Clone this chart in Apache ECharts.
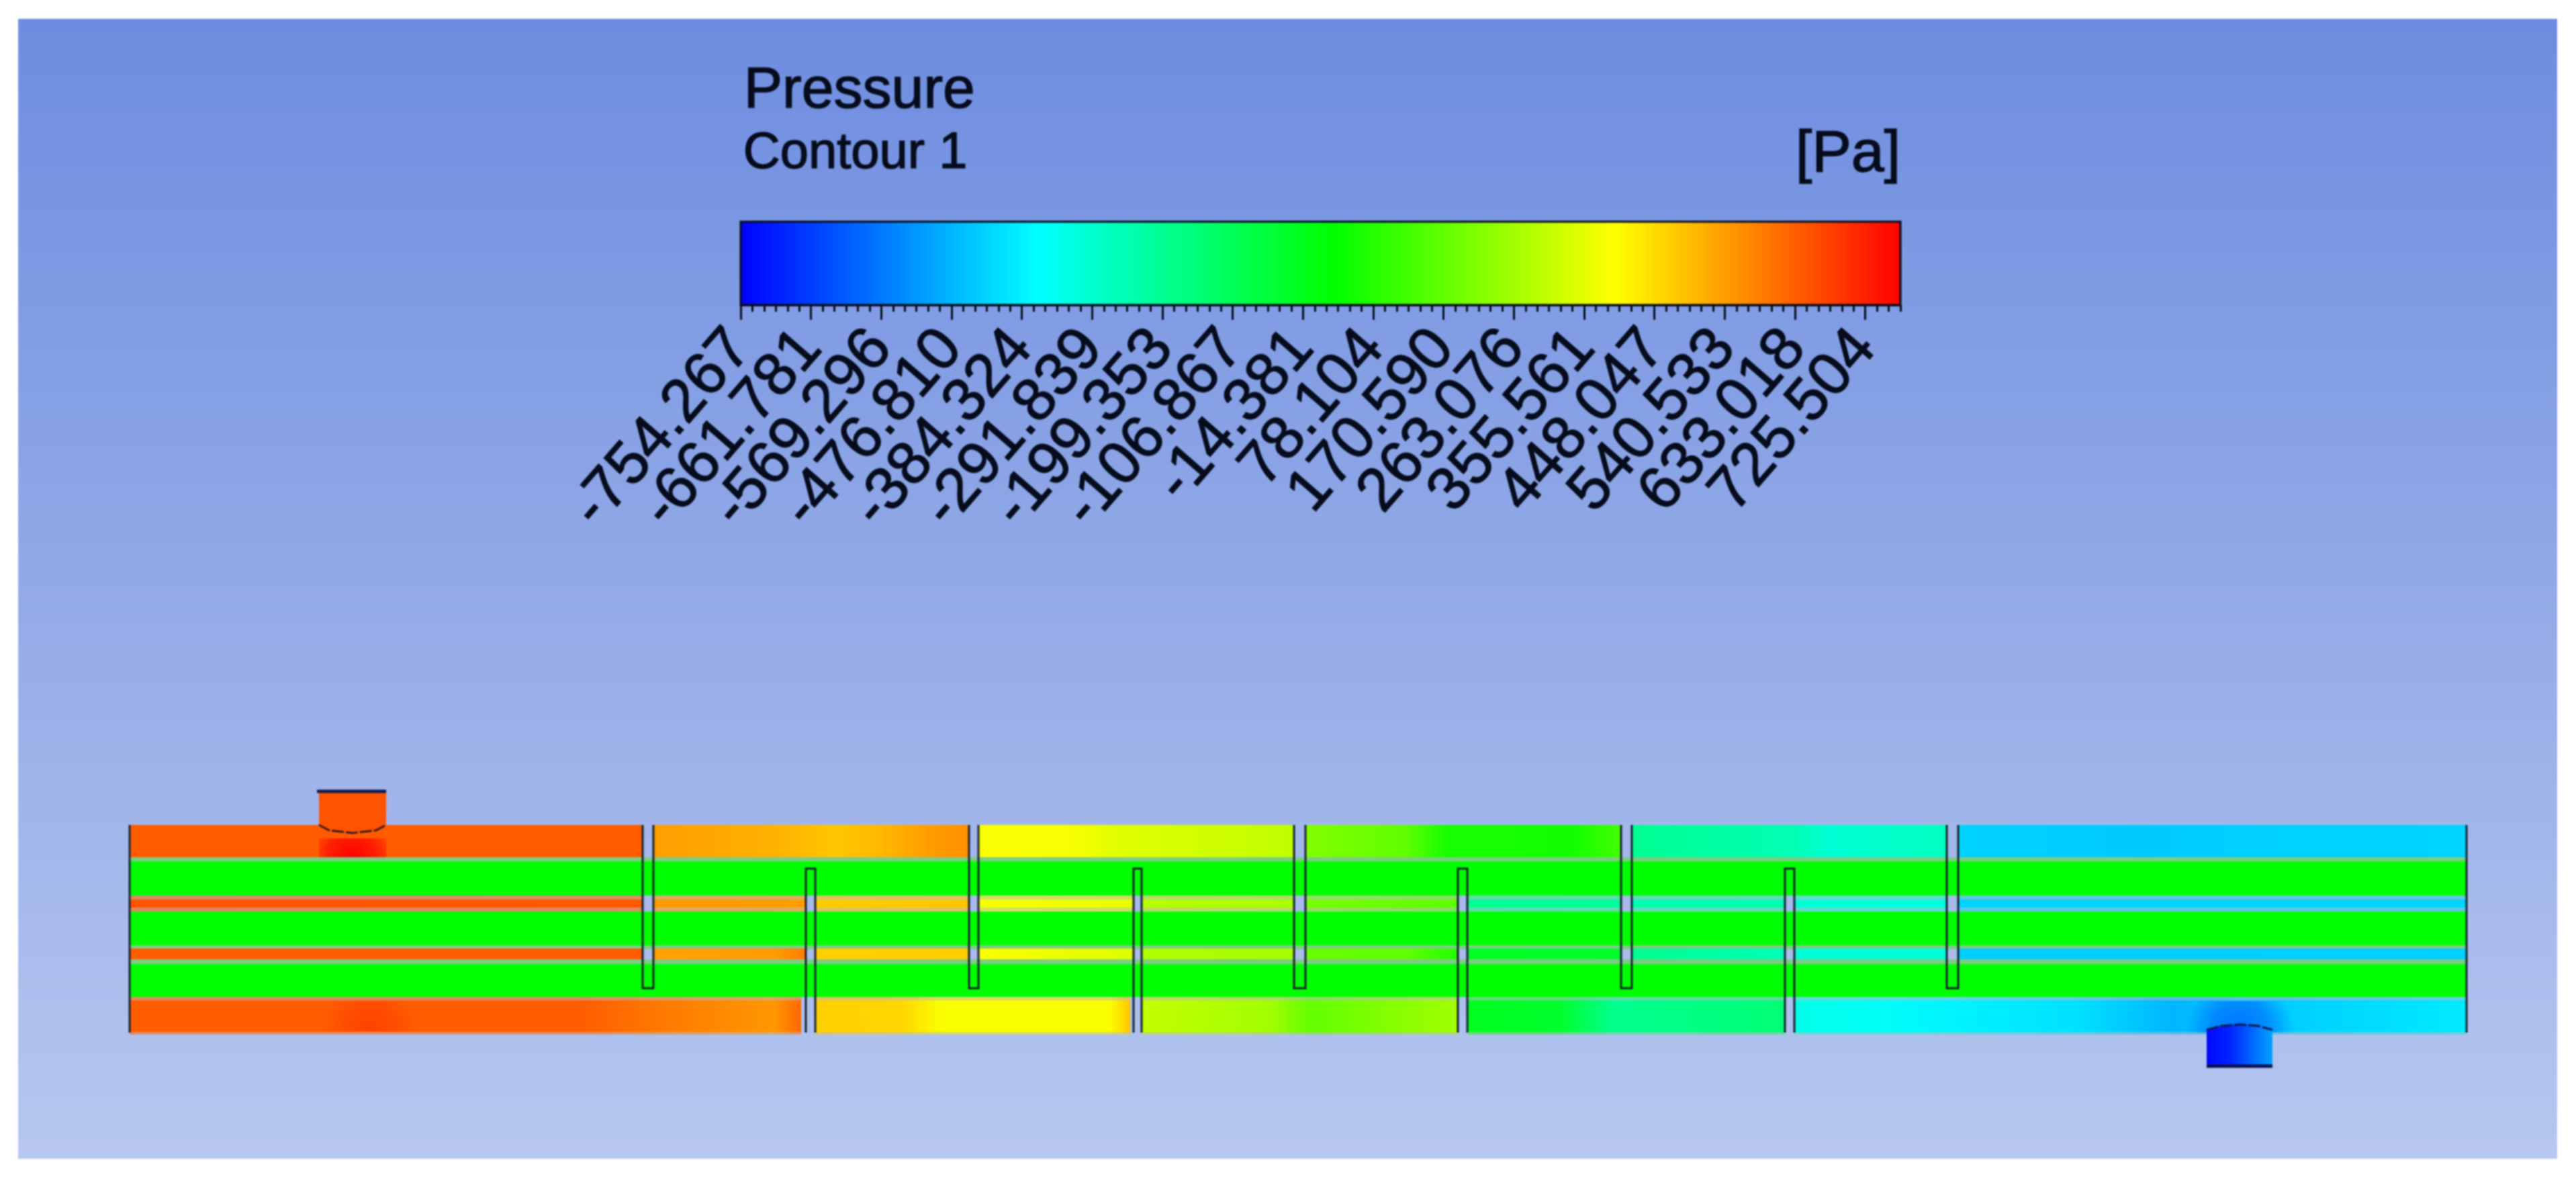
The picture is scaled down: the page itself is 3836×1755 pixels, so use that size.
<!DOCTYPE html>
<html><head><meta charset="utf-8">
<style>html,body{margin:0;padding:0;background:#fff}#c{width:3836px;height:1755px;filter:blur(1.2px)}</style>
<script src="https://cdn.jsdelivr.net/npm/echarts@6/dist/echarts.min.js"></script>
</head><body><div id="c"></div>
<script>
// colour scale
const tickLabels = ['-754.267','-661.781','-569.296','-476.810','-384.324','-291.839','-199.353','-106.867','-14.381','78.104','170.590','263.076','355.561','448.047','540.533','633.018','725.504'];
const scaleMin = -754.267, scaleMax = 771.75;
const scaleColors = ['#0000ff','#00ffff','#00ff00','#ffff00','#ff0000'];
const scaleStops = [0,.256,.512,.754,1];
// geometry in axis units
const topBaffleX = [764,1250,1734,2221,2706];
const topBaffleW = [16,14,17,16,17];
const bottomBaffleX = [1007,1495,1978,2465];
const bottomBaffleW = [14,12,14,14];
// shell-side pressure stations [x, Pa], one list per compartment
const topBand = [
 [[0,636],[764,636]],
 [[780,540],[960,510],[1050,480],[1110,496],[1190,540],[1250,560]],
 [[1264,389],[1400,385],[1480,350],[1600,330],[1734,305]],
 [[1751,215],[1900,165],[1960,60],[2150,55],[2221,125]],
 [[2237,-195],[2480,-250],[2530,-300],[2706,-266]],
 [[2723,-431],[3000,-445],[3200,-432],[3480,-431]]
];
const gapBand1 = [
 [[0,650],[764,640]],[[780,545],[1007,540]],[[1021,470],[1250,480]],
 [[1264,385],[1495,360]],[[1507,290],[1734,270]],[[1751,200],[1978,160]],
 [[1992,-200],[2221,-210]],[[2237,-240],[2465,-245]],[[2479,-303],[2706,-310]],[[2723,-431],[3480,-431]]
];
const gapBand2 = [
 [[0,636],[764,636]],[[780,535],[960,540],[1007,590]],[[1021,465],[1250,470]],
 [[1264,389],[1495,345]],[[1507,280],[1734,265]],[[1751,175],[1900,170],[1978,75]],
 [[1992,-30],[2221,-40]],[[2237,-190],[2465,-250]],[[2479,-300],[2706,-300]],[[2723,-440],[3480,-435]]
];
const bottomBand = [
 [[0,636],[668,636],[800,590],[960,550],[1000,620]],
 [[1021,465],[1150,455],[1210,389],[1460,389],[1490,480]],
 [[1507,310],[1700,260],[1760,170],[1978,260]],
 [[1992,-20],[2130,-40],[2210,-190],[2465,-150]],
 [[2479,-330],[2600,-350],[2710,-380],[2900,-410],[3040,-475],[3260,-430],[3480,-395]]
];
// plumes near nozzles: [x0,y0,x1,y1,Pa,opacity,reach]
const plumes = [[282,70,382,98,771,1,2.4],[287,312,427,357,690,.7,1.5],[3060,312,3225,359,-590,.95,1.7]];
const tubePressure = 27;
const inletArc = [[282,50],[297,58],[332,62],[367,58],[382,50]];
const outletArc = [[3093,355],[3115,349],[3142,347],[3169,349],[3191,355]];

const bandRows = [
 {rows:topBand,y0:50,y1:98},{rows:gapBand1,y0:161,y1:173},{rows:gapBand2,y0:234,y1:250},{rows:bottomBand,y0:311,y1:358}
];
const lineRows = [
 {rows:gapBand1,y0:155,y1:161},{rows:gapBand1,y0:173,y1:179},{rows:bottomBand,y0:306,y1:311},{rows:bottomBand,y0:358,y1:362}
];
const tubeRows = [[0,3480,104,155],[0,3480,179,229],[0,3480,257,306]];
const tubeEdges = [[0,3480,98,104],[0,3480,229,235],[0,3480,250,257]];

function hex(c){return [1,3,5].map(i=>parseInt(c.substr(i,2),16));}
function mixRGB(a,b,t){return a.map((v,i)=>v+(b[i]-v)*t);}
function rgb(a,o){return 'rgba('+a.map(Math.round).join(',')+','+(o==null?1:o)+')';}
function scaleRGB(p){
  const t=Math.max(0,Math.min(.9999,(p-scaleMin)/(scaleMax-scaleMin)));
  let i=0; while(t>scaleStops[i+1]) i++;
  return mixRGB(hex(scaleColors[i]),hex(scaleColors[i+1]),(t-scaleStops[i])/(scaleStops[i+1]-scaleStops[i]));
}
const edgeGray=[186,186,196];
function stopsOf(st,gray){
  const a=st[0][0],b=st[st.length-1][0];
  return st.map(s=>{let c=scaleRGB(s[1]); if(gray) c=mixRGB(c,edgeGray,.52);
    return {offset:(s[0]-a)/(b-a),color:rgb(c)};});
}
const rects=[];
bandRows.forEach(b=>b.rows.forEach(st=>rects.push({st,y0:b.y0,y1:b.y1,gray:false})));
lineRows.forEach(b=>b.rows.forEach(st=>rects.push({st,y0:b.y0,y1:b.y1,gray:true})));
function rectShape(api,x0,y0,x1,y1){
  const a=api.coord([x0,y0]),b=api.coord([x1,y1]);
  return {x:a[0],y:a[1],width:b[0]-a[0],height:b[1]-a[1]};
}
const G=echarts.graphic;
const majors=tickLabels.map(Number);
// the axis always drops its first and last label, so both ends get an empty sentinel
const labelValues=[scaleMin].concat(majors.map((m,i)=>i===0?m+.005:m),[scaleMax]);
const step=(majors[16]-majors[0])/16;
const minors=[];
for(let m=scaleMin;m<scaleMax+step/12;m+=step/6){minors.push(+m.toFixed(3));}
const ink='#060c1c';
const heavy={stroke:ink,lineWidth:1.5};

const opt={
 animation:false,
 backgroundColor:'#ffffff',
 graphic:[{type:'rect',z:-10,silent:true,shape:{x:27,y:28,width:3781,height:1697},
   style:{fill:new G.LinearGradient(0,0,0,1,[{offset:0,color:'#6e8de0'},{offset:1,color:'#b7c7ef'}])}},
 {type:'text',left:1107,top:93,z:5,style:Object.assign({text:'Pressure',font:'86px "Liberation Sans"',fill:ink},heavy)},
 {type:'text',left:1106,top:190,z:5,style:Object.assign({text:'Contour 1',font:'76px "Liberation Sans"',fill:ink},heavy)},
 {type:'text',right:1005,top:186,z:5,style:Object.assign({text:'[Pa]',font:'88px "Liberation Sans"',fill:ink},heavy)}],
 grid:[{left:193,top:1178,width:3480,height:409,show:false},
       {left:1103,top:330,width:1727,height:124,show:false}],
 xAxis:[
  {type:'value',gridIndex:0,min:0,max:3480,show:false},
  {type:'value',gridIndex:1,min:scaleMin,max:scaleMax,position:'bottom',
   axisLine:{show:true,lineStyle:{color:ink,width:3}},
   axisTick:{show:true,length:22,lineStyle:{color:ink,width:3},customValues:labelValues.slice(0,-1)},
   axisLabel:{show:true,rotate:49,margin:50,fontSize:90,color:ink,fontFamily:'Liberation Sans',
     textBorderColor:ink,textBorderWidth:1.5,
     showMinLabel:false,showMaxLabel:false,hideOverlap:false,
     customValues:labelValues,formatter:v=>{if(v===scaleMin||v===scaleMax)return '';const i=majors.findIndex(m=>Math.abs(m-v)<.01);return i<0?'':tickLabels[i];}},
   splitLine:{show:false}},
  {type:'value',gridIndex:1,min:scaleMin,max:scaleMax,position:'bottom',
   axisLine:{show:false},axisLabel:{show:false},splitLine:{show:false},
   axisTick:{show:true,length:10,lineStyle:{color:ink,width:3},customValues:minors}}
 ],
 yAxis:[
  {type:'value',gridIndex:0,min:0,max:409,inverse:true,show:false},
  {type:'value',gridIndex:1,min:0,max:1,show:false}
 ],
 series:[
  // colour bar
  {type:'custom',xAxisIndex:1,yAxisIndex:1,clip:false,z:3,data:[[scaleMin,scaleMax]],
   renderItem:(p,api)=>{const a=api.coord([scaleMin,1]),b=api.coord([scaleMax,0]);
    return {type:'rect',shape:{x:a[0],y:a[1],width:b[0]-a[0],height:b[1]-a[1]},
     style:{stroke:ink,lineWidth:3,fill:new G.LinearGradient(0,0,1,0,scaleColors.map((c,i)=>({offset:scaleStops[i],color:c})))}};}},
  // tubes
  {type:'custom',xAxisIndex:0,yAxisIndex:0,clip:false,z:3,data:tubeRows,
   renderItem:(p,api)=>{const r=tubeRows[p.dataIndex];
    return {type:'rect',shape:rectShape(api,r[0],r[2],r[1],r[3]),style:{fill:rgb(scaleRGB(tubePressure))}};}},
  {type:'custom',xAxisIndex:0,yAxisIndex:0,clip:false,z:3,data:tubeEdges,
   renderItem:(p,api)=>{const r=tubeEdges[p.dataIndex];
    return {type:'rect',shape:rectShape(api,r[0],r[2],r[1],r[3]),style:{fill:'#7ccc84'}};}},
  // shell bands and blended edges
  {type:'custom',xAxisIndex:0,yAxisIndex:0,clip:false,z:4,data:rects.map((r,i)=>[i]),
   renderItem:(p,api)=>{const r=rects[p.dataIndex],s=r.st;
    return {type:'rect',shape:rectShape(api,s[0][0],r.y0,s[s.length-1][0],r.y1),
     style:{fill:new G.LinearGradient(0,0,1,0,stopsOf(s,r.gray))}};}},
  // plumes
  {type:'custom',xAxisIndex:0,yAxisIndex:0,clip:false,z:5,data:plumes,
   renderItem:(p,api)=>{const r=plumes[p.dataIndex],c=scaleRGB(r[4]);
    return {type:'rect',shape:rectShape(api,r[0],r[1],r[2],r[3]),
     style:{fill:new G.RadialGradient(.5,.95,r[6],[{offset:0,color:rgb(c,r[5])},{offset:.55,color:rgb(c,r[5]*.65)},{offset:1,color:rgb(c,0)}])}};}},
  // nozzles
  {type:'custom',xAxisIndex:0,yAxisIndex:0,clip:false,z:6,data:[[0],[1]],
   renderItem:(p,api)=>{
    if(p.dataIndex===0){
      const pts=[[282,0]].concat(inletArc.map(q=>q.slice()),[[382,0]]).map(q=>api.coord(q));
      const arc=inletArc.map(q=>api.coord(q));
      return {type:'group',children:[
       {type:'polygon',shape:{points:pts},style:{fill:rgb(scaleRGB(650))}},
       {type:'polyline',shape:{points:arc},style:{stroke:'#3a1a20',lineWidth:3,fill:null,lineDash:[18,3]}},
       {type:'polyline',shape:{points:[api.coord([279,0]),api.coord([382,0])]},style:{stroke:'#101a50',lineWidth:5,fill:null}}]};
    }
    const pts=outletArc.concat([[3191,409],[3093,409]]).map(q=>api.coord(q));
    const arc=outletArc.map(q=>api.coord(q));
    return {type:'group',children:[
     {type:'polygon',shape:{points:pts},style:{fill:new G.LinearGradient(0,0,1,0,[{offset:0,color:rgb(scaleRGB(-740))},{offset:.35,color:rgb(scaleRGB(-700))},{offset:1,color:rgb(scaleRGB(-505))}])}},
     {type:'polyline',shape:{points:arc},style:{stroke:'#101a50',lineWidth:3,fill:null,lineDash:[18,3]}},
     {type:'polyline',shape:{points:[api.coord([3093,409]),api.coord([3191,409])]},style:{stroke:'#0a1050',lineWidth:5,fill:null}}]};
   }},
  // baffles and walls
  {type:'custom',xAxisIndex:0,yAxisIndex:0,clip:false,z:7,data:topBaffleX.concat(bottomBaffleX).concat([0,3480]).map(v=>[v]),
   renderItem:(p,api)=>{
    const i=p.dataIndex,n=topBaffleX.length,m=bottomBaffleX.length;let pts;
    if(i<n){const x=topBaffleX[i],w=topBaffleW[i];pts=[[x,50],[x,293],[x+w,293],[x+w,50]];}
    else if(i<n+m){const x=bottomBaffleX[i-n],w=bottomBaffleW[i-n];pts=[[x,359],[x,115],[x+w,115],[x+w,359]];}
    else {const x=i===n+m?0:3480;pts=[[x,50],[x,359]];}
    return {type:'polyline',shape:{points:pts.map(q=>api.coord(q))},style:{stroke:'#14202e',lineWidth:3,fill:null}};
   }}
 ]
};
echarts.init(document.getElementById('c'),null,{renderer:'canvas'}).setOption(opt);
</script></body></html>
